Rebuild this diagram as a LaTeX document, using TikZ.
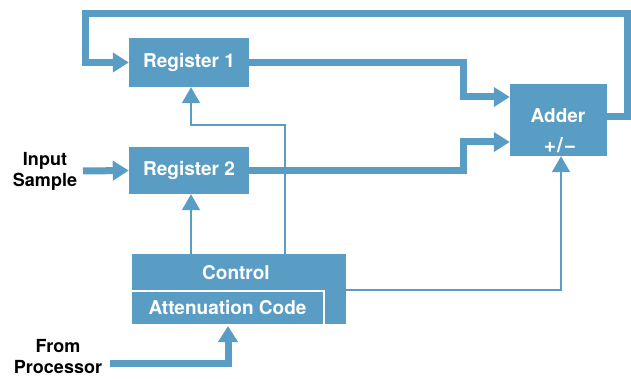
\documentclass[tikz,border=0pt]{standalone}
\usepackage{fontspec}
\setmainfont{TeX Gyre Heros}
\usetikzlibrary{arrows.meta}
\definecolor{hpblue}{RGB}{90,157,196}
\begin{document}
\begin{tikzpicture}[x=1pt,y=-1pt,
  wfont/.style={text=white,font=\fontsize{19}{21}\selectfont\bfseries},
  block/.style={fill=hpblue,draw=none,inner sep=0pt,wfont},
  lbl/.style={inner sep=0pt,align=center,font=\fontsize{18}{21}\selectfont\bfseries},
  thick bus/.style={draw=hpblue,line width=7pt,line cap=butt,line join=miter,-{Triangle[length=16pt,width=19pt]}},
  thin bus/.style={draw=hpblue,line width=1.6pt,line join=miter,-{Triangle[length=16pt,width=18pt]}}]
\path[use as bounding box] (0,0) rectangle (631,379);
% blocks
\node[block,minimum width=120pt,minimum height=49pt] (reg1) at (189,62.5) {Register 1};
\node[block,minimum width=120pt,minimum height=47pt] (reg2) at (189,170.5) {Register 2};
\node[block,minimum width=97pt,minimum height=72pt] (adder) at (558.5,120) {};
\node[inner sep=0pt,wfont] (addlbl) at (558,116) {Adder};
\node[inner sep=0pt,text=white,font=\fontsize{21}{23}\selectfont\bfseries] (pmlbl) at (560,145) {+\kern1pt/\kern1pt\textminus};
\node[block,minimum width=214pt,minimum height=70pt] (ctrl) at (239,289) {};
\node[inner sep=0pt,wfont] (ctrllbl) at (236,273) {Control};
\node[draw=white,line width=2pt,fill=hpblue,minimum width=193pt,minimum height=34pt,inner sep=0pt,wfont] (atten) at (227.5,308) {Attenuation Code};
% labels
\node[lbl] (insample) at (45,171) {Input\\Sample};
\node[lbl] (proc) at (58,357) {From\\Processor};
% coordinates
\coordinate (fbR) at (627,14);
\coordinate (fbL) at (85,14);
\coordinate (jx) at (463,0);
\coordinate (c1) at (285,125);
\coordinate (c2) at (191,0);
\coordinate (inS) at (83,171);
\coordinate (prS) at (110,363);
\coordinate (prX) at (228,0);
\coordinate (adX) at (561,0);
% feedback loop
\draw[thick bus] ([yshift=3pt]adder.east) -| (fbR) -- (fbL) |- (reg1.west);
% register outputs
\draw[thick bus] (reg1.east) -| (jx |- 0,97) -- ([yshift=23pt]adder.west);
\draw[thick bus] (reg2.east) -| (jx |- 0,142) -- ([yshift=-22pt]adder.west);
% input sample
\draw[thick bus] (inS) -- (reg2.west);
% from processor
\draw[thick bus] (prS) -| (prX |- atten.south);
% control lines
\draw[thin bus] (ctrl.north -| c2) -- (c2 |- reg2.south);
\draw[thin bus] (ctrl.north -| c1) -- (c1) -| (c2 |- reg1.south);
\draw[thin bus] (ctrl.east |- 0,290) -| (adX |- adder.south);
\end{tikzpicture}
\end{document}
